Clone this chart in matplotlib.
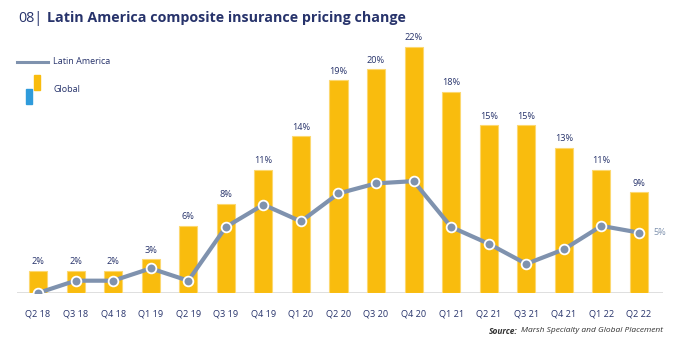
import numpy as np
import matplotlib
matplotlib.use("Agg")
import matplotlib.pyplot as plt
from matplotlib.patches import Rectangle
from matplotlib.lines import Line2D

# data
quarters = ["Q2 18", "Q3 18", "Q4 18", "Q1 19", "Q2 19", "Q3 19", "Q4 19", "Q1 20",
            "Q2 20", "Q3 20", "Q4 20", "Q1 21", "Q2 21", "Q3 21", "Q4 21", "Q1 22", "Q2 22"]
global_chg = [2, 2, 2, 3, 6, 8, 11, 14, 19, 20, 22, 18, 15, 15, 13, 11, 9]
latam_chg = [0, 1.1, 1.1, 2.2, 1.1, 5.9, 7.9, 6.4, 8.9, 9.8, 10.0, 5.9, 4.4, 2.6, 3.9, 6.0, 5.4]
latam_last_label = "5%"

navy = "#27336B"
yellow = "#F9BC0E"
slate = "#7F92AE"

plt.rcParams["font.family"] = ["Open Sans", "DejaVu Sans"]

W, H = 680, 348
fig = plt.figure(figsize=(W / 100, H / 100), dpi=100)
ax = fig.add_axes([17 / W, 55 / H, 646 / W, 283 / H])

x = np.arange(len(quarters))
ax.bar(x, global_chg, width=0.48, color=yellow, edgecolor="#FCD870", linewidth=0.8, zorder=2)
for xi, v in zip(x, global_chg):
    ax.text(xi, v + 0.4, f"{v}%", ha="center", va="bottom", fontsize=6.6, color=navy)

ax.plot(x, latam_chg, color=slate, lw=3, marker="o", markersize=7,
        markerfacecolor=slate, markeredgecolor="white", markeredgewidth=1.3, zorder=3)
ax.text(x[-1] + 0.38, latam_chg[-1], latam_last_label, ha="left", va="center",
        fontsize=6.6, color=slate)

ax.axhline(0, color="#D9D9D9", lw=1.2, zorder=1)
ax.set_xlim(-0.56, 16.64)
ax.set_ylim(0, 25.3)
ax.set_xticks(x)
ax.set_xticklabels(quarters, fontsize=6.6, color=navy)
ax.tick_params(axis="x", length=0, pad=12)
ax.set_yticks([])
for s in ax.spines.values():
    s.set_visible(False)

# title
fig.text(18 / W, 1 - 18 / H, "08|", fontsize=10.3, color=navy, va="center", ha="left")
fig.text(47 / W, 1 - 18 / H, "Latin America composite insurance pricing change",
         fontsize=10.3, color=navy, fontweight="bold", va="center", ha="left")

# hand-drawn legend
fig.add_artist(Line2D([17 / W, 48 / W], [1 - 62 / H] * 2, color=slate, lw=2.2))
fig.text(53 / W, 1 - 62 / H, "Latin America", fontsize=6.5, color=navy, va="center")
fig.add_artist(Rectangle((34 / W, 1 - 90 / H), 6 / W, 15 / H, color=yellow))
fig.add_artist(Rectangle((26 / W, 1 - 104 / H), 6 / W, 15 / H, color="#2F9BDB"))
fig.text(53 / W, 1 - 89 / H, "Global", fontsize=6.5, color=navy, va="center")

# source note: italic part right-aligned, bold "Source:" placed just left of it
src = fig.text(663 / W, 1 - 331 / H, "Marsh Specialty and Global Placement", fontsize=6,
               style="italic", color="#333333", ha="right", va="center")
fig.canvas.draw()
bb = src.get_window_extent()
fig.text((bb.x0 - 3) / W, 1 - 331 / H, "Source:", fontsize=6, style="italic",
         fontweight="bold", color="#333333", ha="right", va="center")

fig.savefig("out.png", dpi=100)
